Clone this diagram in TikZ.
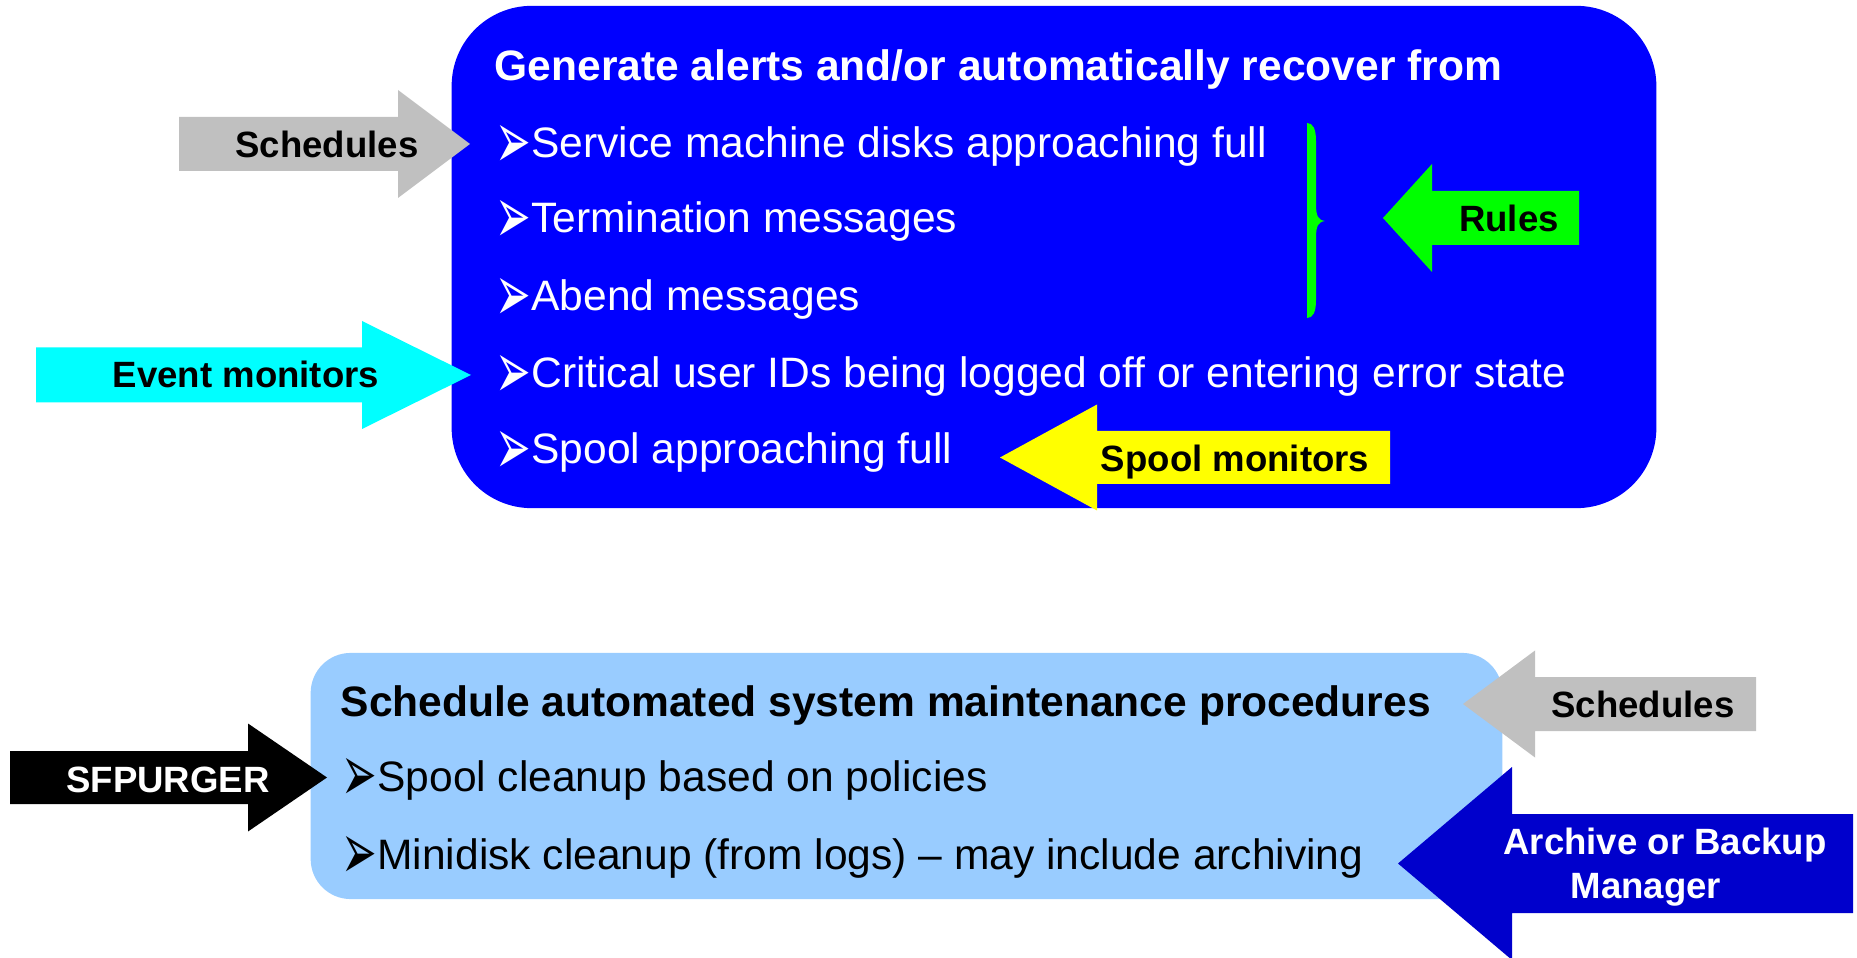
\documentclass[tikz,border=0pt]{standalone}
\usepackage{fontspec}
\setmainfont{Liberation Sans}
\newfontfamily\dingfont{DejaVu Sans}
\definecolor{alertfill}{HTML}{0000FF}
\definecolor{maintfill}{HTML}{99CCFF}
\definecolor{schedulegray}{HTML}{C0C0C0}
\definecolor{eventcyan}{HTML}{00FFFF}
\definecolor{rulegreen}{HTML}{00FF00}
\definecolor{spoolyellow}{HTML}{FFFF00}
\definecolor{archiveblue}{HTML}{0000CC}

% block arrow: colour, tail x, neck x, tip x, mid y, shaft half, head half
\newcommand{\blockarrow}[7]{%
    \fill[#1] (#2,#5-#6) -- (#3,#5-#6) -- (#3,#5-#7) -- (#4,#5)
        -- (#3,#5+#7) -- (#3,#5+#6) -- (#2,#5+#6) -- cycle;}
\newcommand{\itembullet}{\raisebox{-0.25em}{\scalebox{1}[1.9]{\dingfont ➢}}}

\begin{document}
\begin{tikzpicture}[
        x=0.01cm, y=-0.01cm,
        panel/.style={rounded corners=#1, inner sep=0pt},
        heading/.style={anchor=base west, inner sep=0pt,
            font=\fontsize{12.1}{14}\selectfont\bfseries},
        item/.style={anchor=base west, inner sep=0pt,
            font=\fontsize{12.1}{14}\selectfont},
        tag/.style={anchor=base, inner sep=0pt,
            font=\fontsize{10.4}{12.5}\selectfont\bfseries}
    ]
    \useasboundingbox (0,0) rectangle (1857,958);

    % alerts panel
    \node[panel=0.8cm, fill=alertfill, minimum width=12.04cm,
        minimum height=5.02cm] (alertbox) at (1054,257) {};
    \node[heading, text=white] (alerttitle) at (494,81)
        {Generate alerts and/or automatically recover from};
    \node[item, text=white] (diskfull) at (495,158)
        {\itembullet Service machine disks approaching full};
    \node[item, text=white] (termmsg) at (495,233)
        {\itembullet Termination messages};
    \node[item, text=white] (abendmsg) at (495,311)
        {\itembullet Abend messages};
    \node[item, text=white] (criticalids) at (495,388)
        {\itembullet Critical user IDs being logged off or entering error state};
    \node[item, text=white] (spoolfull) at (495,464)
        {\itembullet Spool approaching full};

    % brace grouping the rule-driven items
    \fill[rulegreen] (1307,123) -- (1307,318)
        .. controls (1313,318) and (1316,312) .. (1316,300) -- (1316,238)
        .. controls (1316,226) and (1318,222) .. (1325,221)
        .. controls (1318,220) and (1316,216) .. (1316,204) -- (1316,141)
        .. controls (1316,129) and (1313,123) .. (1307,123) -- cycle;

    \blockarrow{schedulegray}{179}{398}{470}{144}{27}{54}
    \node[tag] (schedtop) at (327,158) {Schedules};
    \blockarrow{eventcyan}{36}{362}{471}{375}{27.5}{54}
    \node[tag] (eventmon) at (246,388) {Event monitors};
    \blockarrow{rulegreen}{1579}{1432}{1383}{218}{27}{54}
    \node[tag] (rules) at (1509,232) {Rules};
    \blockarrow{spoolyellow}{1390}{1097}{1000}{457.5}{26.5}{53}
    \node[tag] (spoolmon) at (1235,472) {Spool monitors};

    % maintenance panel
    \node[panel=0.4cm, fill=maintfill, minimum width=11.91cm,
        minimum height=2.46cm] (maintbox) at (906.5,776) {};
    \node[heading] (mainttitle) at (340,716)
        {Schedule automated system maintenance procedures};
    \node[item] (spoolclean) at (341,791)
        {\itembullet Spool cleanup based on policies};
    \node[item] (diskclean) at (341,869)
        {\itembullet Minidisk cleanup (from logs) – may include archiving};

    \blockarrow{black}{10}{248}{327}{777.5}{26.5}{54}
    \node[tag, text=white] (sfpurger) at (168,792) {SFPURGER};
    \blockarrow{schedulegray}{1756}{1535}{1463}{704}{27}{53.5}
    \node[tag] (schedbottom) at (1643,718) {Schedules};
    \blockarrow{archiveblue}{1853}{1512}{1398}{863.5}{49.5}{96.5}
    \node[tag, anchor=center, align=center, text=white] (archmgr) at (1665,867)
        {Archive or Backup\\Manager\hspace*{0.38cm}};
\end{tikzpicture}
\end{document}
